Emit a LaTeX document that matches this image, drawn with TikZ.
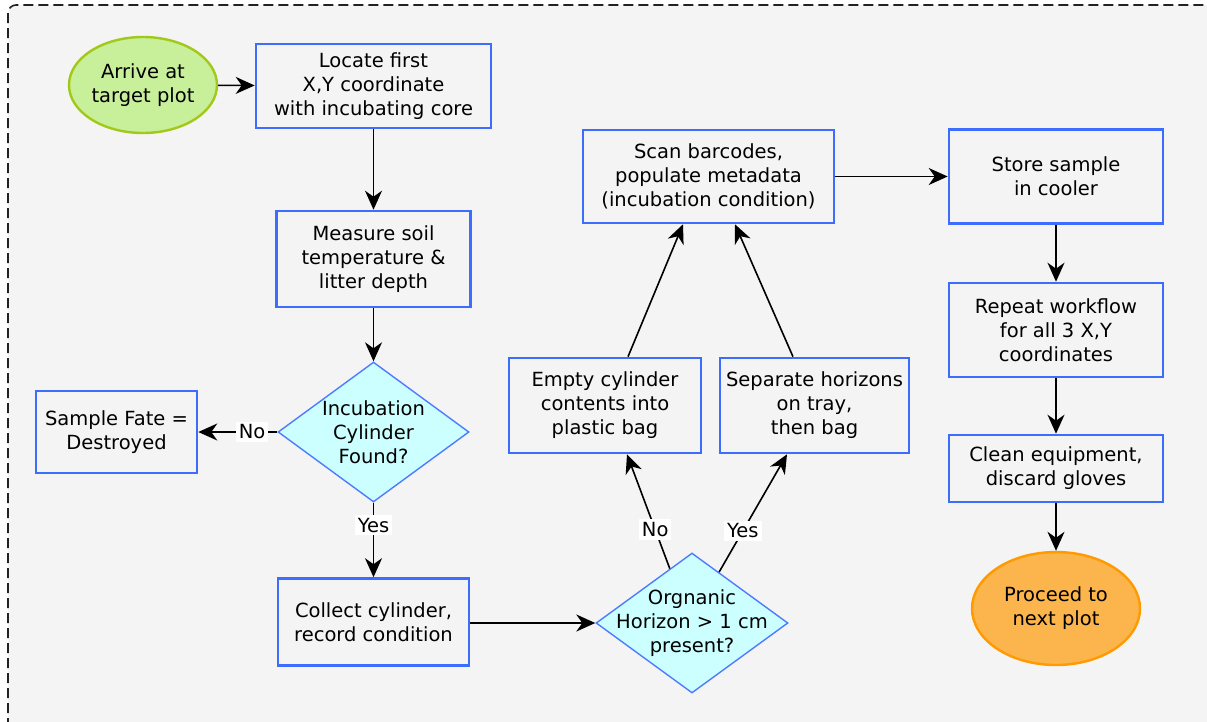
\documentclass[tikz,border=0pt]{standalone}
\usepackage{fontspec}
\setmainfont{DejaVu Sans}
\usetikzlibrary{shapes.geometric,arrows.meta,calc}
\definecolor{bgc}{HTML}{F4F4F4}
\definecolor{boxblue}{HTML}{3D6DFF}
\definecolor{diablue}{HTML}{4D7CFF}
\definecolor{diafill}{HTML}{CCFFFF}
\definecolor{startfill}{HTML}{C8EF9A}
\definecolor{startline}{HTML}{A2C81A}
\definecolor{endfill}{HTML}{FBB54C}
\definecolor{endline}{HTML}{FF9A00}
\definecolor{frame}{HTML}{222222}
\begin{document}
\begin{tikzpicture}[x=1pt,y=-1pt,
  every node/.style={font=\fontsize{19.5}{24}\selectfont, align=center, inner sep=0pt, text=black},
  box/.style={draw=boxblue, line width=2.6pt, rectangle},
  dia/.style={draw=diablue, line width=1.4pt, fill=diafill, diamond},
  startov/.style={ellipse, draw=startline, fill=startfill, line width=2.4pt},
  endov/.style={ellipse, draw=endline, fill=endfill, line width=2.4pt},
  conn/.style={draw=black, line width=1.6pt, -{Stealth[length=19pt,width=17pt,inset=6pt]}},
  lbl/.style={fill=white, inner xsep=3pt, inner ysep=3pt}]
\useasboundingbox (0,0) rectangle (1207,721);
\begin{scope}
\clip (0,0) rectangle (1207,721);
\fill[bgc, rounded corners=8pt] (8,5) rectangle (1240,760);
\draw[frame, line width=1.6pt, dash pattern=on 10pt off 5pt, rounded corners=8pt] (8,5) rectangle (1240,760);
\end{scope}

\node[startov, minimum width=148pt, minimum height=96pt] (arrive) at (143,85) {Arrive at\\target plot};
\node[box, minimum width=235pt, minimum height=84pt] (locate) at (373.5,86) {Locate first\\X,Y coordinate\\with incubating core};
\node[box, minimum width=194pt, minimum height=96pt] (measure) at (373.5,259) {Measure soil\\temperature \&\\litter depth};
\node[dia, minimum width=191pt, minimum height=140pt, label={[align=center]center:Incubation\\Cylinder\\Found?}] (inc) at (373.5,432) {};
\node[box, minimum width=161pt, minimum height=82pt] (fate) at (116.5,432) {Sample Fate =\\Destroyed};
\node[box, minimum width=191pt, minimum height=87pt] (collect) at (373.5,622) {Collect cylinder,\\record condition};
\node[dia, minimum width=192pt, minimum height=140pt, label={[align=center]center:Orgnanic\\Horizon > 1 cm\\present?}] (org) at (692,623) {};
\node[box, minimum width=192pt, minimum height=95pt] (empty) at (605,405.5) {Empty cylinder\\contents into\\plastic bag};
\node[box, minimum width=189pt, minimum height=95pt] (sep) at (814.5,405.5) {Separate horizons\\on tray,\\then bag};
\node[box, minimum width=251pt, minimum height=93pt] (scan) at (708.5,176.5) {Scan barcodes,\\populate metadata\\(incubation condition)};
\node[box, minimum width=214pt, minimum height=94pt] (store) at (1056,176.5) {Store sample\\in cooler};
\node[box, minimum width=214pt, minimum height=94pt] (repeat) at (1056,330) {Repeat workflow\\for all 3 X,Y\\coordinates};
\node[box, minimum width=214pt, minimum height=67pt] (clean) at (1056,468.5) {Clean equipment,\\discard gloves};
\node[endov, minimum width=168pt, minimum height=113pt] (proceed) at (1056,608.5) {Proceed to\\next plot};

\draw[conn] (arrive) -- (locate);
\draw[conn] (locate) -- (measure);
\draw[conn] (measure) -- (inc);
\draw[conn] (inc.west) -- node[lbl, pos=0.32] (no1) {No} (fate.east);
\draw[conn] (inc.south) -- node[lbl, pos=0.3] (yes1) {Yes} (collect.north);
\draw[conn] (collect.east |- org.west) -- (org.west);
\coordinate (orgL) at ($(org.north)!0.23!(org.west)$);
\coordinate (orgR) at ($(org.north)!0.28!(org.east)$);
\draw[conn] (orgL) -- node[lbl, pos=0.34] (no2) {No} ($(empty.south)+(22,0)$);
\draw[conn] (orgR) -- node[lbl, pos=0.35] (yes2) {Yes} ($(sep.south)+(-27.5,0)$);
\draw[conn] ($(empty.north)+(23,0)$) -- ($(scan.south)+(-25.5,0)$);
\draw[conn] ($(sep.north)+(-21.5,0)$) -- ($(scan.south)+(26.5,0)$);
\draw[conn] (scan) -- (store);
\draw[conn] (store) -- (repeat);
\draw[conn] (repeat) -- (clean);
\draw[conn] (clean) -- (proceed);
\end{tikzpicture}
\end{document}
